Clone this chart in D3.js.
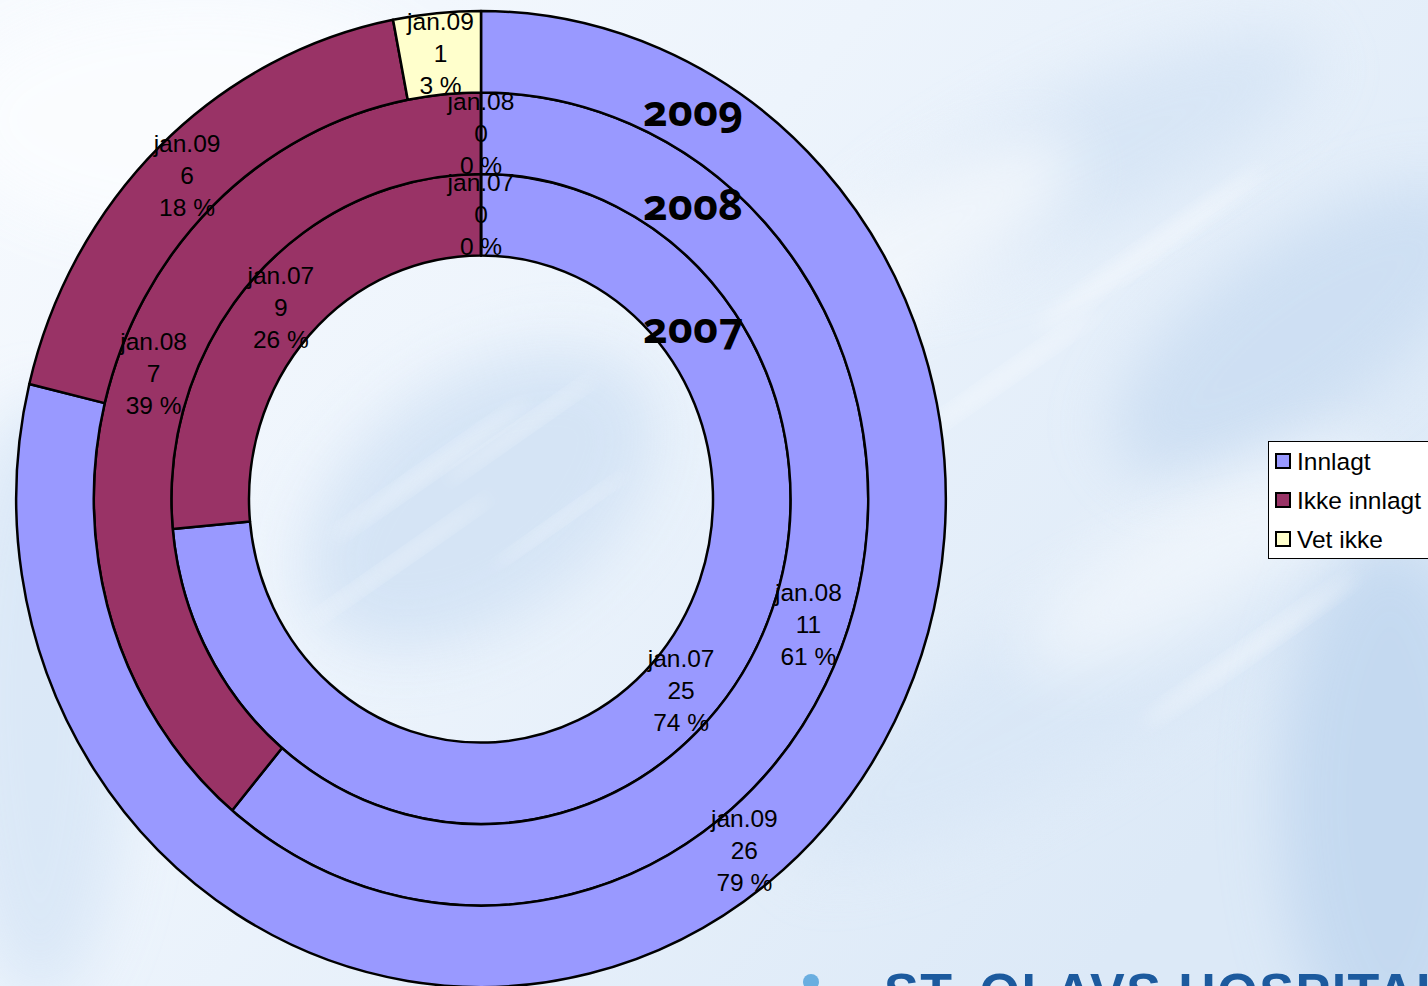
<!DOCTYPE html>
<html>
<head>
<meta charset="utf-8">
<script src="https://cdn.jsdelivr.net/npm/d3@7"></script>
<style>
  html, body { margin: 0; padding: 0; overflow: hidden; }
  svg { display: block; }
</style>
</head>
<body>
<div id="chart"></div>
<script>
const WIDTH = 1428
const HEIGHT = 986

// data
const years = ['2007', '2008', '2009']
const seriesNames = ['jan.07', 'jan.08', 'jan.09']
const categories = ['Innlagt', 'Ikke innlagt', 'Vet ikke']
const values2007 = [25, 9, 0]
const values2008 = [11, 7, 0]
const values2009 = [26, 6, 1]
const colors = ['#9999ff', '#993366', '#ffffcc']

const rings = [values2007, values2008, values2009]

const CX = 481, CY = 499
const SY = 1.05          // chart is stretched a bit vertically
const HOLE = 232, RING = 77.6

let svg = d3.select('#chart').append('svg')
  .attr('width', WIDTH)
  .attr('height', HEIGHT)

// background (sky-like)
let defs = svg.append('defs')
let bg = defs.append('linearGradient').attr('id', 'bg')
  .attr('x1', 0).attr('y1', 0).attr('x2', 1).attr('y2', 0.6)
bg.append('stop').attr('offset', 0).attr('stop-color', '#f7fafe')
bg.append('stop').attr('offset', 0.45).attr('stop-color', '#edf4fc')
bg.append('stop').attr('offset', 1).attr('stop-color', '#dce9f7')
defs.append('filter').attr('id', 'blur')
  .attr('x', '-50%').attr('y', '-50%').attr('width', '200%').attr('height', '200%')
  .append('feGaussianBlur').attr('stdDeviation', 30)
defs.append('filter').attr('id', 'blur2')
  .attr('x', '-50%').attr('y', '-50%').attr('width', '200%').attr('height', '200%')
  .append('feGaussianBlur').attr('stdDeviation', 8)

svg.append('rect').attr('width', WIDTH).attr('height', HEIGHT).attr('fill', 'url(#bg)')

let clouds = svg.append('g').attr('class', 'clouds')
const blobs = [
  [1080, 160, 260, 70, -25, '#d2e2f4', 0.7],
  [1300, 330, 220, 90, -35, '#c6daf1', 0.7],
  [1050, 700, 300, 80, -30, '#d6e5f6', 0.6],
  [1390, 800, 110, 260, 0, '#bfd6ef', 0.8],
  [40, 700, 90, 300, 0, '#d6e5f6', 0.8],
  [480, 500, 200, 120, -35, '#d3e3f5', 0.9],
  [900, 250, 200, 60, -30, '#ffffff', 0.6],
  [1200, 560, 200, 60, -30, '#ffffff', 0.5],
  [200, 120, 250, 120, 0, '#fbfdff', 0.9]
]
clouds.selectAll('ellipse').data(blobs).enter().append('ellipse')
  .attr('transform', (d) => 'translate(' + d[0] + ',' + d[1] + ') rotate(' + d[4] + ')')
  .attr('rx', (d) => d[2]).attr('ry', (d) => d[3])
  .attr('fill', (d) => d[5]).attr('opacity', (d) => d[6])
  .attr('filter', 'url(#blur)')

// thin white streaks
const streaks = [
  [430, 470, 120, 6], [520, 430, 90, 5], [400, 560, 110, 5], [560, 520, 80, 4],
  [1150, 250, 140, 8], [1000, 380, 120, 6], [1250, 650, 130, 7]
]
clouds.selectAll('.streak').data(streaks).enter().append('ellipse')
  .attr('class', 'streak')
  .attr('transform', (d) => 'translate(' + d[0] + ',' + d[1] + ') rotate(-35)')
  .attr('rx', (d) => d[2]).attr('ry', (d) => d[3])
  .attr('fill', '#ffffff').attr('opacity', 0.45)
  .attr('filter', 'url(#blur2)')

// logo, cut by the bottom edge
svg.append('circle').attr('cx', 811).attr('cy', 982).attr('r', 8).attr('fill', '#6aaee0')
svg.append('text')
  .attr('x', 884).attr('y', 1010)
  .attr('font-family', 'Liberation Sans, Arial, sans-serif')
  .attr('font-weight', 'bold')
  .attr('font-size', 52)
  .attr('letter-spacing', 1.5)
  .attr('fill', '#1c5a9e')
  .text('ST. OLAVS HOSPITAL')

// donut rings
let pie = d3.pie().sort(null).value((d) => d)

let ring_g = svg.append('g')
  .attr('transform', 'translate(' + CX + ',' + CY + ') scale(1,' + SY + ')')

let labels = []

rings.forEach((vals, i) => {
  let arc = d3.arc()
    .innerRadius(HOLE + i * RING)
    .outerRadius(HOLE + (i + 1) * RING)
  let total = d3.sum(vals)
  let arcs = pie(vals)

  ring_g.append('g')
      .attr('class', 'ring ring-' + years[i])
    .selectAll('path')
      .data(arcs)
    .enter().append('path')
      .attr('d', arc)
      .attr('fill', (d, j) => colors[j])
      .attr('stroke', '#000')
      .attr('stroke-width', 2.5)
      .attr('stroke-linejoin', 'round')
      .attr('vector-effect', 'non-scaling-stroke')

  arcs.forEach((d) => {
    let c = arc.centroid(d)
    labels.push({
      x: CX + c[0],
      y: CY + c[1] * SY,
      lines: [seriesNames[i], String(d.value), Math.round(d.value / total * 100) + ' %']
    })
  })
})

// data labels
let lab = svg.append('g')
    .attr('class', 'labels')
    .attr('font-family', 'Liberation Sans, Arial, sans-serif')
    .attr('font-size', 24.5)
    .attr('fill', '#000')
    .attr('text-anchor', 'middle')
  .selectAll('text')
    .data(labels)
  .enter().append('text')
    .attr('x', (d) => d.x)
    .attr('y', (d) => d.y)

lab.selectAll('tspan')
  .data((d) => d.lines.map((t, k) => ({ t: t, k: k, x: d.x, y: d.y })))
  .enter().append('tspan')
    .attr('x', (d) => d.x)
    .attr('y', (d) => d.y + (d.k - 1) * 32)
    .attr('dy', '0.35em')
    .text((d) => d.t)

// year titles
const yearPos = [[643, 343], [643, 220], [643, 126]]
svg.append('g')
    .attr('class', 'years')
    .attr('font-family', 'Noto Sans, sans-serif')
    .attr('font-weight', 'bold')
    .attr('font-size', 43)
    .style('font-variant-numeric', 'oldstyle-nums')
  .selectAll('text')
    .data(years)
  .enter().append('text')
    .attr('x', (d, i) => yearPos[i][0])
    .attr('y', (d, i) => yearPos[i][1])
    .text((d) => d)

// legend
let legend = svg.append('g')
  .attr('class', 'legend')
  .attr('transform', 'translate(1268,441)')

legend.append('rect')
  .attr('x', 0.5).attr('y', 0.5)
  .attr('width', 170).attr('height', 117)
  .attr('fill', '#fff')
  .attr('stroke', '#000')
  .attr('stroke-width', 1)

let item = legend.selectAll('.item')
  .data(categories)
  .enter().append('g')
    .attr('class', 'item')
    .attr('transform', (d, i) => 'translate(0,' + (20 + i * 39) + ')')

item.append('rect')
  .attr('x', 8).attr('y', -7)
  .attr('width', 14).attr('height', 14)
  .attr('fill', (d, i) => colors[i])
  .attr('stroke', '#000')
  .attr('stroke-width', 2)

item.append('text')
  .attr('x', 29)
  .attr('dy', '0.36em')
  .attr('font-family', 'Liberation Sans, Arial, sans-serif')
  .attr('font-size', 24.5)
  .text((d) => d)
</script>
</body>
</html>
